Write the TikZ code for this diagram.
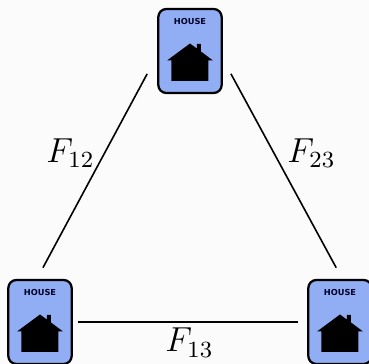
\documentclass[tikz,border=0pt]{standalone}
\usepackage{fontspec}
\newfontfamily\labelfont{DejaVu Sans}
\usetikzlibrary{positioning}
\definecolor{cardBlue}{HTML}{91AEF5}
\definecolor{paperGray}{HTML}{FBFBFB}
\begin{document}
\begin{tikzpicture}[
  x=0.75pt,y=-0.75pt,
  house/.style={draw,rounded corners=6pt,line width=1.7pt,fill=cardBlue,minimum width=47.5pt,minimum height=63pt,inner sep=0pt,
    label={[font=\labelfont\bfseries\fontsize{6.2}{7}\selectfont,text=black!85!blue,anchor=center,yshift=-10.5pt]north:HOUSE}},
  edge/.style={line width=1.2pt},
  flabel/.style={font=\fontsize{12}{14}\selectfont,scale=2.17,anchor=base,inner sep=0pt},
  icon/.pic={
    \fill (-23,9.5) -- (0,-7.5) -- (7,-2.4) -- (7,-7) -- (11,-7) -- (11,0.5) -- (23,9.5) -- (18.5,9.5) -- (18.5,30) -- (-18.5,30) -- (-18.5,9.5) -- cycle;
  }]
  \useasboundingbox[fill=paperGray] (0,0) rectangle (369,364);
  \node[house] (top) at (190,51) {};
  \node[house] (left) at (40,322) {};
  \node[house] (right) at (340,322) {};
  \pic at (top.center) {icon};
  \pic at (left.center) {icon};
  \pic at (right.center) {icon};
  \draw[edge,shorten <=19.5pt,shorten >=9.5pt] ([xshift=1.7pt]top.west) -- ([xshift=-2.3pt]left.north);
  \draw[edge,shorten <=19.5pt,shorten >=9.5pt] ([xshift=-3.2pt]top.east) -- ([xshift=1.7pt]right.north);
  \draw[edge,shorten <=4pt,shorten >=7pt] (left.east) -- (right.west);
  \node[flabel] (f12) at (70.5,162) {$F_{12}$};
  \node[flabel] (f23) at (311.5,162) {$F_{23}$};
  \node[flabel] (f13) at (189.5,352) {$F_{13}$};
\end{tikzpicture}
\end{document}
